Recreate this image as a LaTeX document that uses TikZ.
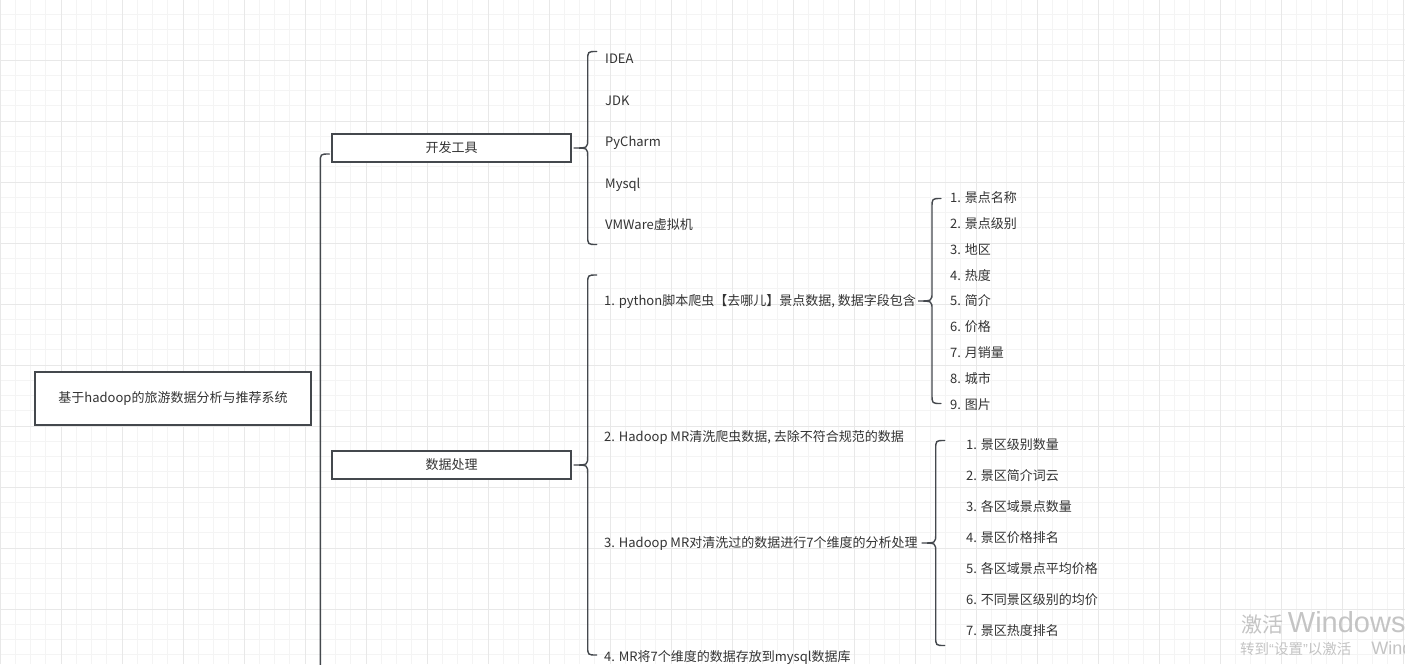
\documentclass[tikz,border=0pt]{standalone}
\usepackage{fontspec}
\setmainfont{Noto Sans CJK SC}
\newfontfamily\winfont{Liberation Sans}
\usetikzlibrary{calc,positioning}
\definecolor{inkgray}{HTML}{333333}
\definecolor{edgegray}{HTML}{44484D}
\definecolor{gridminor}{HTML}{F4F4F4}
\definecolor{gridmajor}{HTML}{E8E8E8}
\definecolor{markgray}{HTML}{C4C4C4}
\tikzset{
  topic/.style={draw=edgegray, line width=1.4pt, fill=white, inner sep=0pt,
    minimum width=239pt, minimum height=28pt},
  leaf/.style={anchor=west, inner sep=0pt, text height=11pt, text depth=1.5pt},
  bracket/.style={draw=edgegray, line width=1.4pt, line cap=round},
  winmark/.style={anchor=base west, inner sep=0pt, text=markgray}
}
% curly bracket from a tip point, #2 = half height
\newcommand{\curly}[2]{%
  \draw[bracket] ($(#1)+(23,-#2)$) .. controls ($(#1)+(14,-#2)$) .. ($(#1)+(14,-#2+9)$)
    -- ($(#1)+(14,-9)$) .. controls ($(#1)+(14,0)$) .. (#1)
    .. controls ($(#1)+(14,0)$) .. ($(#1)+(14,9)$)
    -- ($(#1)+(14,#2-9)$) .. controls ($(#1)+(14,#2)$) .. ($(#1)+(23,#2)$);}

\begin{document}
\begin{tikzpicture}[x=1pt, y=-1pt, every node/.style={font=\fontsize{13}{15}\selectfont, text=inkgray}]
  \useasboundingbox[fill=white] (0,0) rectangle (1405,664);
  % grid
  \foreach \k in {0,...,92} \draw[gridminor, line width=1pt] ({\k*15.25},0) -- ({\k*15.25},664);
  \foreach \k in {0,...,44} \draw[gridminor, line width=1pt] (0,{\k*15.25-1}) -- (1405,{\k*15.25-1});
  \foreach \k in {0,...,23} \draw[gridmajor, line width=1pt] ({\k*61},0) -- ({\k*61},664);
  \foreach \k in {1,...,11} \draw[gridmajor, line width=1pt] (0,{\k*61-1}) -- (1405,{\k*61-1});

  \node[topic, minimum width=276pt, minimum height=53pt] (root) at (173,398.5) {基于hadoop的旅游数据分析与推荐系统};
  \node[topic] (tools) at (451.5,148) {开发工具};
  \node[topic] (data) at (451.5,465) {数据处理};

  \draw[bracket] ($(tools.west)+(-2,6)$) .. controls ($(tools.west)+(-11,6)$) .. ($(tools.west)+(-11,15)$)
    -- ($(tools.west)+(-11,530)$);

  \foreach \t [count=\i] in {IDEA,JDK,PyCharm,Mysql,VMWare虚拟机}
    \node[leaf] (tool\i) at (605,{59+41.5*(\i-1)}) {\t};
  \coordinate (toolsTip) at ($(tools.east)+(2,0)$);
  \curly{toolsTip}{96.5}

  \node[leaf] (d1) at (604,301) {1. python脚本爬虫【去哪儿】景点数据, 数据字段包含};
  \node[leaf] (d2) at (604,437) {2. Hadoop MR清洗爬虫数据, 去除不符合规范的数据};
  \node[leaf] (d3) at (604,543) {3. Hadoop MR对清洗过的数据进行7个维度的分析处理};
  \node[leaf] (d4) at (604,657) {4. MR将7个维度的数据存放到mysql数据库};
  \coordinate (dataTip) at ($(data.east)+(2,0)$);
  \curly{dataTip}{190}

  \foreach \t [count=\i] in {景点名称,景点级别,地区,热度,简介,价格,月销量,城市,图片}
    \node[leaf] (field\i) at (950,{198+25.8*(\i-1)}) {\i. \t};
  \coordinate (fieldTip) at ($(d1.east)+(2,0)$);
  \curly{fieldTip}{102.5}

  \foreach \t [count=\i] in {景区级别数量,景区简介词云,各区域景点数量,景区价格排名,各区域景点平均价格,不同景区级别的均价,景区热度排名}
    \node[leaf] (dim\i) at (966,{445+31*(\i-1)}) {\i. \t};
  \coordinate (dimTip) at ($(d3.east)+(4,0)$);
  \curly{dimTip}{102.5}

  \node[winmark, font=\fontsize{21}{24}\selectfont] (mark1) at (1241,632)
    {激活 {\winfont\fontsize{29}{32}\selectfont Windows}};
  \node[winmark, font=\fontsize{14.5}{17}\selectfont] (mark2) at (1240,654)
    {转到{\winfont “}设置{\winfont ”}以激活\hspace{20pt}{\winfont\fontsize{18}{20}\selectfont Windows}。};
\end{tikzpicture}
\end{document}
